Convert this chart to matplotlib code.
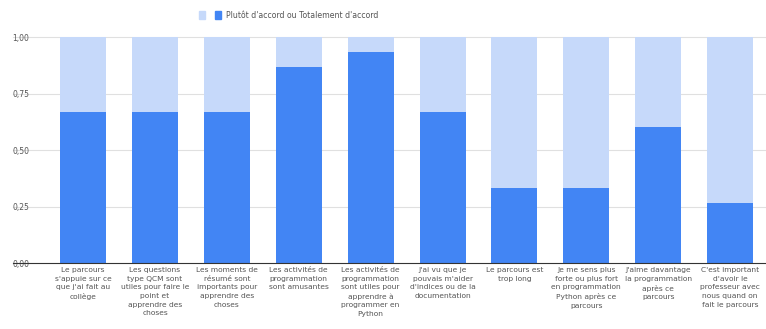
import matplotlib.pyplot as plt
from matplotlib.patches import Rectangle
from matplotlib.ticker import FuncFormatter

# -------------------------------
# Data
# -------------------------------
questions = [
    "Le parcours\ns'appuie sur ce\nque j'ai fait au\ncollège",
    "Les questions\ntype QCM sont\nutiles pour faire le\npoint et\napprendre des\nchoses",
    "Les moments de\nrésumé sont\nimportants pour\napprendre des\nchoses",
    "Les activités de\nprogrammation\nsont amusantes",
    "Les activités de\nprogrammation\nsont utiles pour\napprendre à\nprogrammer en\nPython",
    "J'ai vu que je\npouvais m'aider\nd'indices ou de la\ndocumentation",
    "Le parcours est\ntrop long",
    "Je me sens plus\nforte ou plus fort\nen programmation\nPython après ce\nparcours",
    "J'aime davantage\nla programmation\naprès ce\nparcours",
    "C'est important\nd'avoir le\nprofesseur avec\nnous quand on\nfait le parcours",
]
accord = [0.667, 0.667, 0.667, 0.867, 0.933, 0.667, 0.333, 0.333, 0.600, 0.267]
pas_accord = [0.333, 0.333, 0.333, 0.133, 0.067, 0.333, 0.667, 0.667, 0.400, 0.733]
yticks = [0, 0.25, 0.5, 0.75, 1.0]

dark = '#4285f4'
light = '#c6d9fa'
grey = '#555555'

# -------------------------------
# Plot
# -------------------------------
fig = plt.figure(figsize=(7.66, 3.29), dpi=100)
ax = fig.add_axes([0.0457, 0.2006, 0.9543, 0.6869])

x = range(len(questions))
ax.bar(x, accord, width=0.64, color=dark, zorder=2)
ax.bar(x, pas_accord, width=0.64, bottom=accord, color=light, zorder=2)

ax.set_xlim(-0.67, 9.5)
ax.set_ylim(0, 1)
ax.set_yticks(yticks)
ax.yaxis.set_major_formatter(FuncFormatter(lambda v, p: f"{v:.2f}".replace('.', ',')))
ax.tick_params(axis='y', length=0, labelsize=5.5, labelcolor=grey, pad=4)
ax.set_xticks(list(x))
ax.set_xticklabels(questions, fontsize=5.4, color=grey, linespacing=1.52, va='top')
ax.tick_params(axis='x', length=0, pad=3)

for v in yticks[1:]:
    ax.axhline(v, color='#e0e0e0', lw=0.8, zorder=1, xmin=-0.03, clip_on=False)
ax.axhline(0, color='#333333', lw=0.8, zorder=3, xmin=-0.03, clip_on=False)
for s in ax.spines.values():
    s.set_visible(False)

# legend drawn by hand (light series has no label)
fig.patches.append(Rectangle((199 / 766, 1 - 19 / 329), 6 / 766, 8 / 329,
                             transform=fig.transFigure, color=light))
fig.patches.append(Rectangle((215 / 766, 1 - 19 / 329), 6 / 766, 8 / 329,
                             transform=fig.transFigure, color=dark))
fig.text(226 / 766, 1 - 15 / 329, "Plutôt d'accord ou Totalement d'accord",
         fontsize=5.6, color=grey, va='center', ha='left')

fig.savefig('out.png', dpi=100)
